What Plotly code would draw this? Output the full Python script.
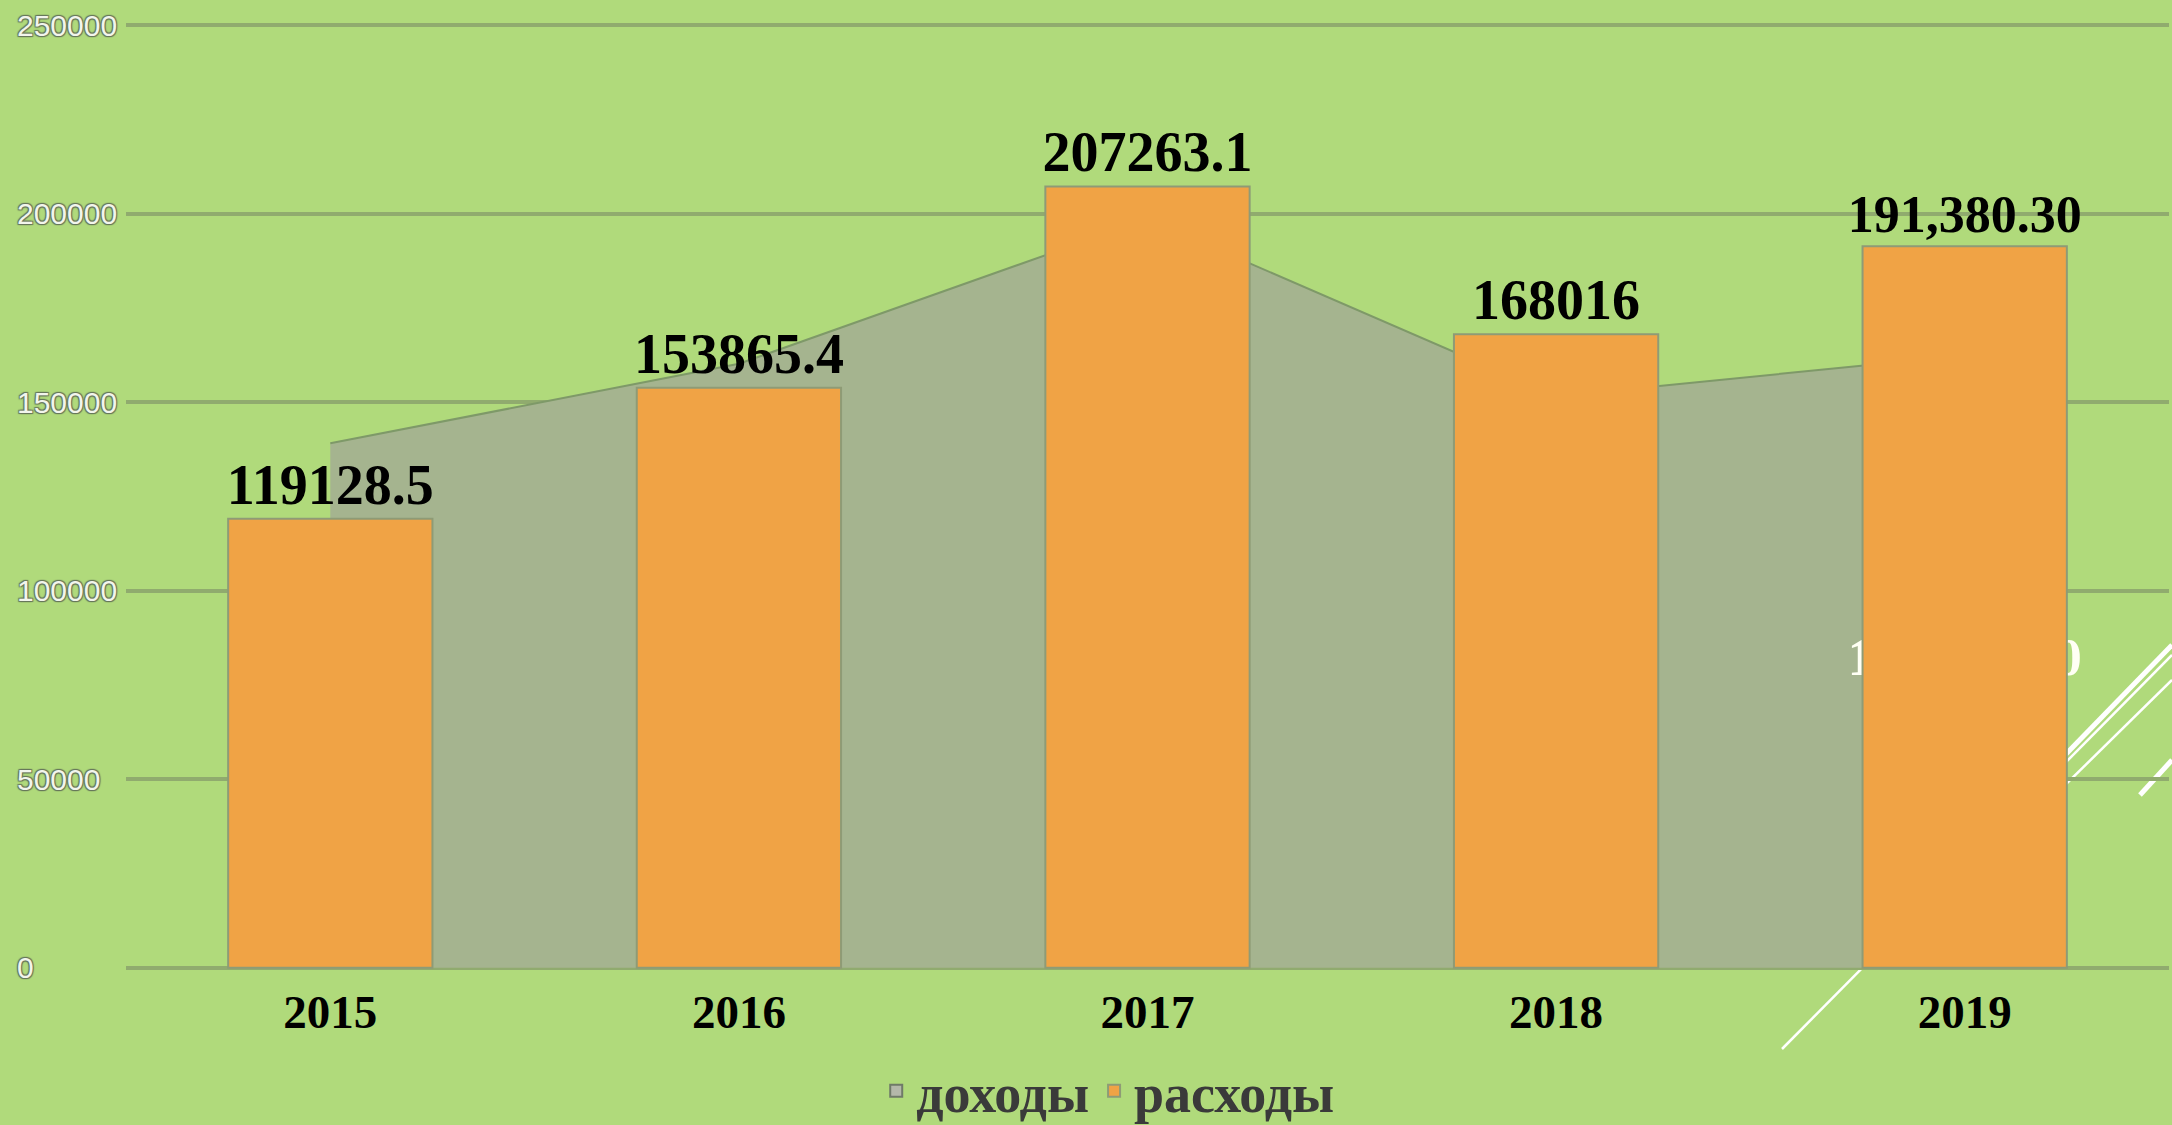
import plotly.graph_objects as go

# ---- data ----
years = ["2015", "2016", "2017", "2018", "2019"]
income = [139100, 160200, 198600, 151600, 162400]          # доходы (area)
expenses = [119128.5, 153865.4, 207263.1, 168016, 191380.30]  # расходы (bars)
expense_labels = ["119128.5", "153865.4", "207263.1", "168016", "191,380.30"]
income_labels = ["139100.0", "160200.0", "198600.0", "151600.0", "162,400.00"]
y_ticks = [0, 50000, 100000, 150000, 200000, 250000]
y_tick_text = ["0", "50000", "100000", "150000", "200000", "250000"]
series_names = ["доходы", "расходы"]

W, H = 2172, 1125
BG = "#B0DA7B"
AREA = "#A5B48F"
BAR = "#F0A345"
GRID = "#90AB6E"

x_pos = list(range(len(years)))
x_left_px, x_right_px = 126, 2169
xdom = [x_left_px / W, x_right_px / W]
pad = 600                      # small range padding so the edge gridlines get drawn
top_m, bot_m = 23, 155
plot_h = H - top_m - bot_m
rng = [-pad, 250000 + pad]


def px_to_paper(px, py):
    return px / W, (H - bot_m - py) / plot_h


fig = go.Figure()

# area (base layer, drawn beneath the bars)
fig.add_trace(go.Scatter(
    x=x_pos, y=income, mode="lines", fill="tozeroy",
    fillcolor=AREA, line=dict(color="#7E9968", width=2),
    name=series_names[0], showlegend=False, xaxis="x", yaxis="y",
    hoverinfo="skip",
))
# white data labels of the area (mostly hidden behind the bars)
fig.add_trace(go.Scatter(
    x=x_pos, y=[v / 2 for v in income], mode="text", text=income_labels,
    textfont=dict(family="Liberation Serif", size=52, color="#FFFFF4", weight="bold"),
    showlegend=False, xaxis="x", yaxis="y", hoverinfo="skip",
))
# legend entry for the area, as a square swatch
fig.add_trace(go.Bar(
    x=[None], y=[None], name=series_names[0],
    marker=dict(color="#B4B8AA", line=dict(color="#6f7a68", width=2)),
    xaxis="x", yaxis="y",
))
# bars (overlay axes so they sit above the area)
fig.add_trace(go.Bar(
    x=x_pos, y=expenses, width=0.5, name=series_names[1],
    marker=dict(color=BAR, line=dict(color="#8E9B76", width=2)),
    text=expense_labels, textposition="outside", constraintext="none",
    cliponaxis=False,
    textfont=dict(family="Liberation Serif", size=[56, 56, 56, 56, 52], color="#000000", weight="bold"),
    xaxis="x2", yaxis="y2",
))

outline = "#66765a"
fig.update_layout(
    width=W, height=H,
    paper_bgcolor=BG, plot_bgcolor=BG,
    margin=dict(l=0, r=0, t=top_m, b=bot_m, autoexpand=False),
    barmode="overlay",
    xaxis=dict(
        domain=xdom, range=[-0.5, len(years) - 0.5],
        tickvals=x_pos, ticktext=years, showgrid=False, zeroline=False,
        showline=False, ticks="", ticklabelstandoff=10,
        tickfont=dict(family="Liberation Serif", size=47, color="#000000", weight="bold"),
    ),
    yaxis=dict(
        range=rng, tickvals=y_ticks, ticktext=y_tick_text,
        showgrid=True, gridcolor=GRID, gridwidth=3.5,
        zeroline=False, showline=False, ticks="",
        side="right", anchor="free", position=16 / W,
        tickfont=dict(family="Liberation Sans", size=30, color="#F2F5EC",
                      shadow=(f"1px 1px 1px {outline}, -1px -1px 1px {outline}, "
                              f"1px -1px 1px {outline}, -1px 1px 1px {outline}")),
    ),
    xaxis2=dict(domain=xdom, range=[-0.5, len(years) - 0.5], overlaying="x",
                visible=False, anchor="y2"),
    yaxis2=dict(range=rng, overlaying="y", visible=False, anchor="x2"),
    legend=dict(
        orientation="h", x=0.51, xanchor="center", y=-0.128, yanchor="middle",
        font=dict(family="Liberation Serif", size=54, color="#3A3A3A", weight="bold"),
        bgcolor="rgba(0,0,0,0)", itemclick=False,
    ),
    showlegend=True,
)

# decorative white slide lines
deco = [
    ((1782, 1049), (2172, 655), 2.5),
    ((2000, 822), (2172, 645), 5),
    ((2000, 849), (2172, 680), 2.5),
    ((2140, 795), (2172, 760), 5),
]
for (p0, p1, w) in deco:
    x0, y0 = px_to_paper(*p0)
    x1, y1 = px_to_paper(*p1)
    fig.add_shape(type="line", xref="paper", yref="paper", x0=x0, y0=y0, x1=x1, y1=y1,
                  line=dict(color="white", width=w), layer="below")

fig.write_html(
    "out.html",
    config={"displayModeBar": False},
    post_script="document.body.style.margin='0';document.body.style.overflow='hidden';",
)
